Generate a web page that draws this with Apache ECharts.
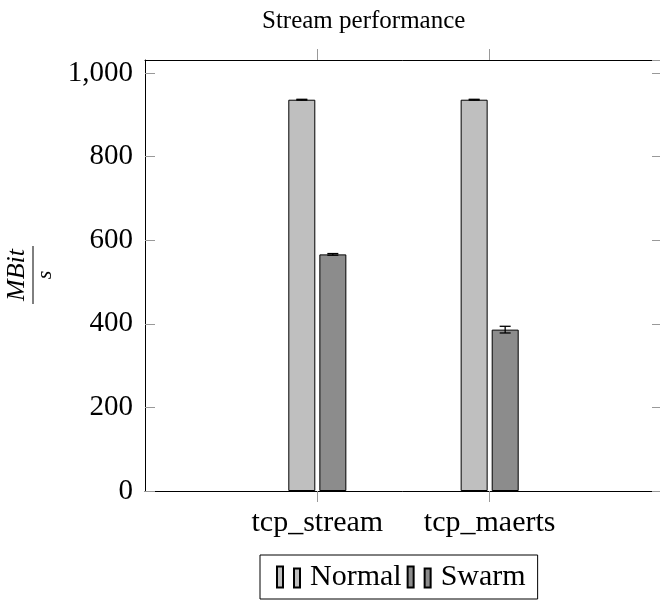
<!DOCTYPE html>
<html><head><meta charset="utf-8">
<script src="https://cdn.jsdelivr.net/npm/echarts@6/dist/echarts.min.js"></script>
<style>html,body{margin:0;padding:0;background:#fff}#c{width:660px;height:603px}</style>
</head><body><div id="c"></div>
<script>
const categories = ['tcp_stream', 'tcp_maerts'];
const normalValues = [936, 936];
const normalErrors = [1, 1];
const swarmValues = [566, 386];
const swarmErrors = [2, 8];
const yMax = 1031;
const yInterval = 200;

const FONT = 'Liberation Serif';
const axisData = [''].concat(categories, ['']);
const pad = arr => ['-'].concat(arr, ['-']);
const tickOnCats = idx => idx > 0 && idx < axisData.length - 1;
const fmt = v => v >= 1000 ? Math.floor(v / 1000) + ',' + String(v % 1000).padStart(3, '0') : String(v);

function errSeries(name, vals, errs, offset) {
  return {
    type: 'custom', name: name + ' err', z: 5, silent: true,
    data: vals.map((v, i) => [i + 1, v, errs[i]]),
    renderItem: (params, api) => {
      const x = api.value(0), v = api.value(1), e = api.value(2);
      const hi = api.coord([x, v + e]), lo = api.coord([x, v - e]);
      const cx = hi[0] + offset, hw = 5.5;
      const st = { stroke: '#000', lineWidth: 1.3 };
      return { type: 'group', children: [
        { type: 'line', shape: { x1: cx, y1: hi[1], x2: cx, y2: lo[1] }, style: st },
        { type: 'line', shape: { x1: cx - hw, y1: hi[1], x2: cx + hw, y2: hi[1] }, style: st },
        { type: 'line', shape: { x1: cx - hw, y1: lo[1], x2: cx + hw, y2: lo[1] }, style: st }
      ]};
    }
  };
}

const chart = echarts.init(document.getElementById('c'), null, { renderer: 'canvas' });
chart.setOption({
  backgroundColor: '#fff',
  animation: false,
  title: {
    text: 'Stream performance', left: 257, top: 4,
    textStyle: { fontFamily: FONT, fontSize: 25, fontWeight: 'normal', color: '#000' }
  },
  grid: { left: 145, top: 60, width: 517, height: 431, outerBoundsMode: 'none', containLabel: false },
  legend: {
    data: ['Normal', 'Swarm'],
    left: 260, top: 555,
    padding: [7, 12, 7, 16],
    itemGap: 5, itemWidth: 23, itemHeight: 21,
    icon: 'path://M0,0h6v21h-6z M17,2h6v19h-6z',
    borderColor: '#000', borderWidth: 1, backgroundColor: '#fff',
    textStyle: { fontFamily: FONT, fontSize: 30, color: '#000', padding: [0, 0, 0, 5] }
  },
  xAxis: [{
    type: 'category', data: axisData, boundaryGap: false, position: 'bottom',
    axisLine: { onZero: false, lineStyle: { color: '#000', width: 1 } },
    axisTick: { show: true, inside: false, length: 11, interval: tickOnCats, lineStyle: { color: '#999', width: 1 } },
    axisLabel: { interval: 0, margin: 17, fontFamily: FONT, fontSize: 30, color: '#000' },
    splitLine: { show: false }
  }, {
    type: 'category', data: axisData, boundaryGap: false, position: 'top',
    axisLine: { onZero: false, lineStyle: { color: '#000', width: 1 } },
    axisTick: { show: true, inside: false, length: 11, interval: tickOnCats, lineStyle: { color: '#999', width: 1 } },
    axisLabel: { show: false }, splitLine: { show: false }
  }],
  yAxis: [{
    type: 'value', min: 0, max: yMax, interval: yInterval, position: 'left',
    axisLine: { show: true, onZero: false, lineStyle: { color: '#000', width: 1 } },
    axisTick: { show: true, inside: true, length: 10, lineStyle: { color: '#999', width: 1 } },
    axisLabel: { margin: 12, showMaxLabel: false, fontFamily: FONT, fontSize: 29, color: '#000', formatter: fmt },
    splitLine: { show: false }
  }, {
    type: 'value', min: 0, max: yMax, interval: yInterval, position: 'right',
    axisLine: { show: true, onZero: false, lineStyle: { color: '#000', width: 1 } },
    axisTick: { show: true, inside: true, length: 10, lineStyle: { color: '#999', width: 1 } },
    axisLabel: { show: false }, splitLine: { show: false }
  }],
  series: [{
    name: 'Normal', type: 'bar', data: pad(normalValues), barWidth: 27, barGap: '15%',
    itemStyle: { color: '#bfbfbf', borderColor: '#000', borderWidth: 1 }
  }, {
    name: 'Swarm', type: 'bar', data: pad(swarmValues), barWidth: 27, barGap: '15%',
    itemStyle: { color: '#8c8c8c', borderColor: '#000', borderWidth: 1 }
  },
  errSeries('Normal', normalValues, normalErrors, -15.5),
  errSeries('Swarm', swarmValues, swarmErrors, 15.5)
  ],
  graphic: [{
    type: 'group', x: 33, y: 275, rotation: Math.PI / 2,
    children: [
      { type: 'text', x: 0, y: -3, style: { text: 'MBit', font: 'italic 26px "Liberation Serif"', fill: '#000', align: 'center', verticalAlign: 'bottom' } },
      { type: 'line', shape: { x1: -29, y1: 0, x2: 29, y2: 0 }, style: { stroke: '#000', lineWidth: 1 } },
      { type: 'text', x: 0, y: 1, style: { text: 's', font: 'italic 22px "Liberation Serif"', fill: '#000', align: 'center', verticalAlign: 'top' } }
    ]
  }]
});
</script>
</body></html>
